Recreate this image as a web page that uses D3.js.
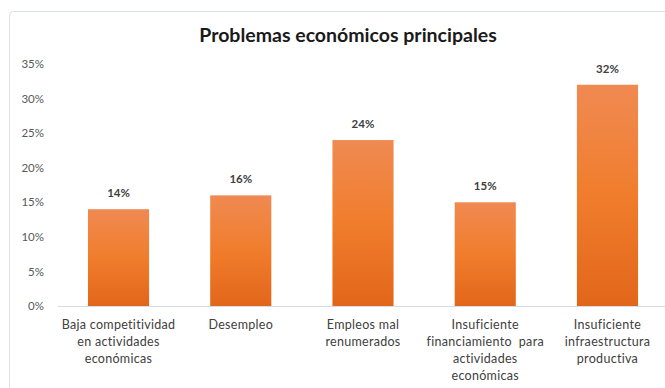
<!DOCTYPE html>
<html>
<head>
<meta charset="utf-8">
<script src="https://cdn.jsdelivr.net/npm/d3@7/dist/d3.min.js"></script>
<style>
  html, body { margin: 0; padding: 0; background: #fff; }
  svg { display: block; }
</style>
</head>
<body>
<script>
// Problemas económicos principales — porcentaje por categoría
const categories = [
  ["Baja competitividad", "en actividades", "económicas"],
  ["Desempleo"],
  ["Empleos mal", "renumerados"],
  ["Insuficiente", "financiamiento  para", "actividades", "económicas"],
  ["Insuficiente", "infraestructura", "productiva"]
];
const values = [14, 16, 24, 15, 32];
const yTicks = [0, 5, 10, 15, 20, 25, 30, 35];
const title = "Problemas económicos principales";

const W = 665, H = 388;
const svg = d3.select("body").append("svg").attr("width", W).attr("height", H);

const defs = svg.append("defs");
const grad = defs.append("linearGradient")
  .attr("id", "barGrad").attr("x1", 0).attr("y1", 0).attr("x2", 0).attr("y2", 1);
grad.append("stop").attr("offset", "0%").attr("stop-color", "#f08a52");
grad.append("stop").attr("offset", "50%").attr("stop-color", "#f07d2c");
grad.append("stop").attr("offset", "100%").attr("stop-color", "#e2661a");

// chart frame
svg.append("rect")
  .attr("x", 9.5).attr("y", 11.5)
  .attr("width", 680).attr("height", 400)
  .attr("rx", 4)
  .attr("fill", "#fff").attr("stroke", "#dadfe8").attr("stroke-width", 1);

const x = d3.scaleBand()
  .domain(d3.range(categories.length))
  .range([57.4, 668.6])
  .paddingInner(0.5).paddingOuter(0.25);

const y = d3.scaleLinear().domain([0, 35]).range([306, 64]);

// title
svg.append("text")
  .attr("x", 348).attr("y", 42)
  .attr("text-anchor", "middle")
  .attr("font-family", "Lato, 'Open Sans', sans-serif")
  .attr("font-weight", "bold")
  .attr("font-size", 19.5)
  .attr("fill", "#1a1a1a")
  .text(title);

// y axis labels (no line, no ticks)
const yAxis = d3.axisLeft(y)
  .tickValues(yTicks)
  .tickFormat(d => d + "%")
  .tickSize(0).tickPadding(0);
const gy = svg.append("g").attr("transform", "translate(44,0)").call(yAxis);
gy.select(".domain").remove();
gy.selectAll("text")
  .attr("font-family", "Lato, sans-serif")
  .attr("font-size", 11.5)
  .attr("fill", "#595959");

// bars
svg.append("g").selectAll("rect")
  .data(values)
  .join("rect")
  .attr("x", (d, i) => x(i))
  .attr("y", d => y(d))
  .attr("width", x.bandwidth())
  .attr("height", d => y(0) - y(d))
  .attr("fill", "url(#barGrad)");

// baseline
const xAxis = d3.axisBottom(x).tickSize(0).tickFormat("");
const gx = svg.append("g").attr("transform", `translate(0,${y(0)})`).call(xAxis);
gx.select(".domain").attr("stroke", "#d4dbe6").attr("stroke-width", 1);

// value labels
svg.append("g").selectAll("text")
  .data(values)
  .join("text")
  .attr("x", (d, i) => x(i) + x.bandwidth() / 2)
  .attr("y", d => y(d) - 12)
  .attr("text-anchor", "middle")
  .attr("font-family", "Lato, sans-serif")
  .attr("font-weight", "bold")
  .attr("font-size", 11.5)
  .attr("fill", "#404040")
  .text(d => d + "%");

// category labels
const cat = svg.append("g").selectAll("text")
  .data(categories)
  .join("text")
  .attr("x", (d, i) => x(i) + x.bandwidth() / 2)
  .attr("y", 329)
  .attr("text-anchor", "middle")
  .attr("font-family", "Lato, sans-serif")
  .attr("font-size", 12.5)
  .attr("letter-spacing", 0.3)
  .attr("fill", "#404040");
cat.selectAll("tspan")
  .data((d, i) => d.map(t => ({ t, i })))
  .join("tspan")
  .attr("x", d => x(d.i) + x.bandwidth() / 2)
  .attr("dy", (d, j) => j === 0 ? 0 : 17)
  .style("white-space", "pre")
  .text(d => d.t);
</script>
</body>
</html>
